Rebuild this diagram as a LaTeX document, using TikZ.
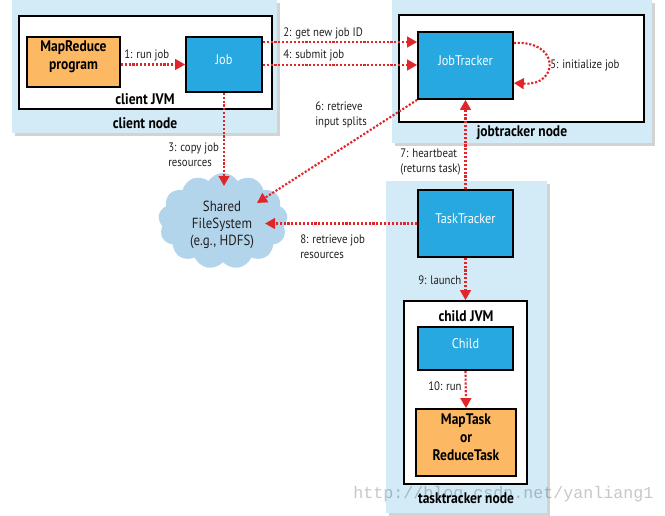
\documentclass[tikz,border=0pt]{standalone}
\usepackage{fontspec}
\setmainfont[FakeStretch=0.88]{PT Sans}
\newfontfamily\wmfont{Liberation Mono}
\usetikzlibrary{arrows.meta,shadows,shapes.symbols,fit}
\definecolor{nodebg}{HTML}{D3EBF7}
\definecolor{boxblue}{HTML}{27A8E0}
\definecolor{boxorange}{HTML}{FDB863}
\definecolor{arrred}{HTML}{E0262B}
\definecolor{cloudblue}{HTML}{B3D5EC}
\definecolor{txt}{HTML}{231F20}
\begin{document}
\begin{tikzpicture}[x=0.75pt,y=-0.75pt,
 hostbox/.style={fill=nodebg, draw=none, drop shadow={shadow xshift=2pt,shadow yshift=-2pt,opacity=0.35}, inner sep=0},
 jvmbox/.style={fill=white, draw=black, line width=1.3pt, inner sep=0},
 bluebox/.style={fill=boxblue, draw=black, line width=1.3pt, inner sep=0, text=white, font=\fontsize{10.5}{12}\selectfont},
 orangebox/.style={fill=boxorange, draw=black, line width=1.3pt, inner sep=0, font=\bfseries\fontsize{11.5}{13.5}\selectfont, align=center},
 flow/.style={draw=arrred, line width=1.6pt, dash pattern=on 1.6pt off 1.3pt, -{Triangle[length=7.5pt,width=8pt]}},
 lbl/.style={font=\fontsize{9.2}{11.2}\selectfont, text=txt, align=left, inner sep=0},
 hostlbl/.style={font=\bfseries\fontsize{11.5}{13}\selectfont, text=black, inner sep=0}
]
\useasboundingbox (0,0) rectangle (665,515);

% client node
\node[hostbox, fit={(12,0) (277,133)}] (clientnode) {};
\node[jvmbox, fit={(19,16) (272,109)}] (clientjvm) {};
\node[orangebox, fit={(27,37) (120,87)}] (mrprog) {MapReduce\\program};
\node[bluebox, fit={(186,37) (262,92)}] (job) {Job};
\node[hostlbl] (clientjvmlbl) at (145,99) {client JVM};
\node[hostlbl] (clientnodelbl) at (145,123) {client node};

% jobtracker node
\node[hostbox, fit={(392,0) (652,143)}] (jtnode) {};
\node[jvmbox, fit={(399,15) (644,122)}] (jtjvm) {};
\node[bluebox, fit={(418,32) (513,99)}] (jt) {JobTracker};
\node[hostlbl] (jtnodelbl) at (522,133) {jobtracker node};

% tasktracker node
\node[hostbox, fit={(386,181) (547,513)}] (ttnode) {};
\node[bluebox, fit={(418,190) (513,257)}] (tt) {TaskTracker};
\node[jvmbox, fit={(404,301) (527,484)}] (childjvm) {};
\node[hostlbl] (childjvmlbl) at (466,316) {child JVM};
\node[bluebox, fit={(418,327) (513,370)}] (child) {Child};
\node[orangebox, fit={(416,409) (516,476)}] (task) {MapTask\\or\\ReduceTask};
\node[hostlbl] (ttnodelbl) at (466,498) {tasktracker node};

% shared filesystem
\node[cloud, cloud puffs=13, cloud puff arc=115, aspect=1.4, fill=cloudblue, draw=none,
      minimum width=97pt, minimum height=72pt, inner sep=0] (hdfs) at (223,221) {};
\node[font=\fontsize{11}{13}\selectfont, text=txt, align=center, inner sep=0] (hdfstext) at (222,225) {Shared\\FileSystem\\(e.g., HDFS)};

\coordinate (c3) at (224,186);
\coordinate (c6) at (257,203);
\coordinate (c8) at (265,223.5);

% connectors
\draw[flow] (mrprog.east |- job.west) -- (job.west);
\draw[flow] (job.east |- 0,42) -- (jt.west |- 0,42);
\draw[flow] (job.east |- 0,65) -- (jt.west |- 0,65);
\draw[flow] (jt.east |- 0,43) .. controls (560,40) and (560,86) .. (jt.east |- 0,83);
\draw[flow] (jt.south west) -- (c6);
\draw[flow] (job.south) -- (c3);
\draw[flow] (tt.north) -- (jt.south);
\draw[flow] (tt.west) -- (c8);
\draw[flow] (tt.south) -- (childjvm.north);
\draw[flow] (child.south) -- (task.north);

% labels
\node[lbl, anchor=west] (l1) at (124,55) {1: run job};
\node[lbl, anchor=west] (l2) at (283,33) {2: get new job ID};
\node[lbl, anchor=west] (l4) at (283,55) {4: submit job};
\node[lbl, anchor=west] (l5) at (550,65) {5: initialize job};
\node[lbl, anchor=west] (l6) at (315,115) {6: retrieve\\input splits};
\node[lbl, anchor=west] (l3) at (168,155) {3: copy job\\resources};
\node[lbl, anchor=west] (l7) at (400,162) {7: heartbeat\\(returns task)};
\node[lbl, anchor=west] (l8) at (300,247) {8: retrieve job\\resources};
\node[lbl, anchor=west] (l9) at (418,280) {9: launch};
\node[lbl, anchor=west] (l10) at (428,386) {10: run};

% watermark
\node[font=\wmfont\fontsize{12.5}{14}\selectfont, text=black, opacity=0.22, anchor=west, inner sep=0] (wm) at (353,494) {http://blog.csdn.net/yanliang1};
\end{tikzpicture}
\end{document}
